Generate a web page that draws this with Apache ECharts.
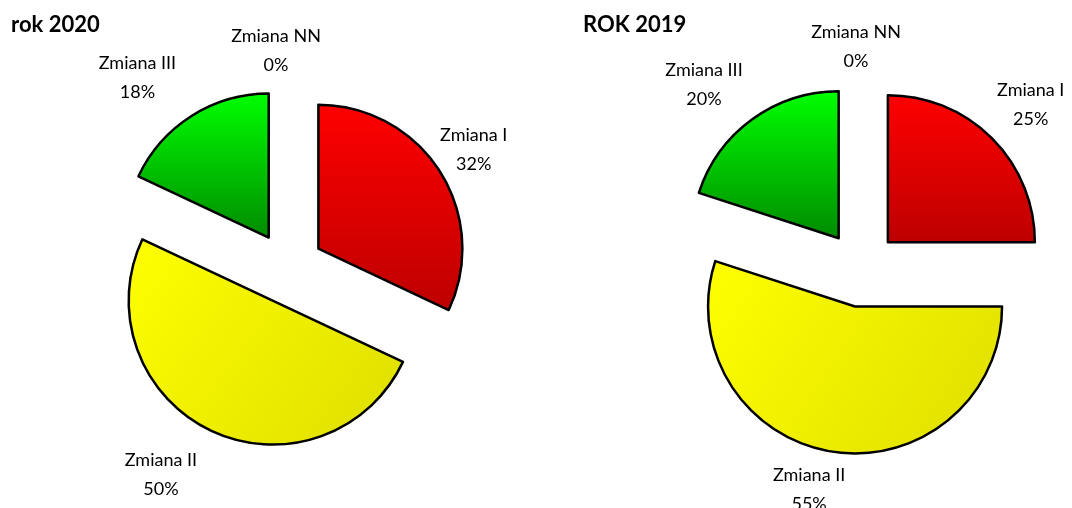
<!DOCTYPE html>
<html>
<head>
<meta charset="utf-8">
<script src="https://cdn.jsdelivr.net/npm/echarts@6/dist/echarts.min.js"></script>
<style>
  html, body { margin: 0; background: #fff; }
  #chart { width: 1072px; height: 508px; }
</style>
</head>
<body>
<div id="chart"></div>
<script>
const categories = ['Zmiana I', 'Zmiana II', 'Zmiana III', 'Zmiana NN'];
const values2020 = [32, 50, 18, 0];
const values2019 = [25, 55, 20, 0];
const titles = ['rok 2020', 'ROK 2019'];

const FONT = 'Lato';

// gradient fills per slice (red, yellow, green, unused for NN)
const fills = [
  new echarts.graphic.LinearGradient(0, 0, 0, 1, [
    { offset: 0, color: '#ff0000' },
    { offset: 1, color: '#bd0000' }
  ]),
  new echarts.graphic.LinearGradient(0, 0, 1, 1, [
    { offset: 0, color: '#ffff00' },
    { offset: 1, color: '#dede00' }
  ]),
  new echarts.graphic.LinearGradient(0, 0, 0, 1, [
    { offset: 0, color: '#00ff00' },
    { offset: 1, color: '#008a00' }
  ]),
  '#4f81bd'
];

// labelGaps: radial distance of each label, labelShift: horizontal push
function buildData(values, labelGaps, labelShift) {
  return categories.map((name, i) => {
    // the empty NN slice gets no outline, like in the original
    const border = values[i] === 0 ? 0 : 2.5;
    return {
      name: name,
      value: values[i],
      selected: true,
      itemStyle: { color: fills[i], borderWidth: border },
      select: { itemStyle: { borderWidth: border } },
      label: { distanceToLabelLine: labelShift[i] },
      labelLine: { length: labelGaps[i] }
    };
  });
}

function pieSeries(values, center, radius, offset, labelGaps, labelShift) {
  return {
    type: 'pie',
    left: 0,
    top: 0,
    right: -80,
    bottom: -80,
    center: center,
    radius: radius,
    startAngle: 90,
    clockwise: true,
    selectedMode: 'multiple',
    selectedOffset: offset,
    animation: false,
    avoidLabelOverlap: false,
    itemStyle: { borderColor: '#000', borderWidth: 2.5 },
    label: {
      show: true,
      position: 'outside',
      formatter: '{b}\n{c}%',
      color: '#000',
      fontFamily: FONT,
      fontSize: 18,
      lineHeight: 29
    },
    labelLine: { show: false, length: 50, length2: 0 },
    labelLayout: { align: 'center', verticalAlign: 'middle' },
    emphasis: { disabled: true },
    select: { itemStyle: { borderColor: '#000' } },
    data: buildData(values, labelGaps, labelShift)
  };
}

const chart = echarts.init(document.getElementById('chart'));
chart.setOption({
  backgroundColor: '#fff',
  title: [
    {
      text: titles[0],
      left: 6,
      top: 9,
      textStyle: { fontFamily: FONT, fontWeight: 'bold', fontSize: 22, color: '#000' }
    },
    {
      text: titles[1],
      left: 578,
      top: 9,
      textStyle: { fontFamily: FONT, fontWeight: 'bold', fontSize: 22, color: '#000' }
    }
  ],
  series: [
    pieSeries(values2020, [288, 268], 144, 36, [40, 48, 45, 37], [0, 30, 30, -12]),
    pieSeries(values2019, [861, 269], 147, 38, [48, 38, 43, 37], [5, 17, 23, 5])
  ]
});
</script>
</body>
</html>
